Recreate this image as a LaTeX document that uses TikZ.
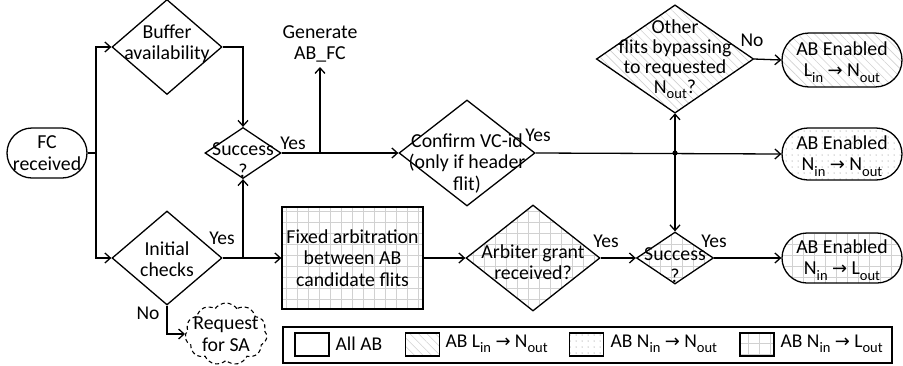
\documentclass[tikz,border=0pt]{standalone}
\usepackage{fontspec}
\setmainfont{Carlito}
\newfontfamily\arrowfont{DejaVu Sans}
\usetikzlibrary{shapes.geometric,shapes.misc,shapes.symbols,patterns,patterns.meta,arrows.meta,calc}

% square grid fill with 11pt cells
\pgfdeclarepatternformonly{gridcells}{\pgfpoint{-1pt}{-1pt}}{\pgfpoint{12pt}{12pt}}{\pgfpoint{11pt}{11pt}}{
  \pgfsetlinewidth{0.6pt}
  \pgfpathmoveto{\pgfpoint{-1pt}{0pt}}\pgfpathlineto{\pgfpoint{12pt}{0pt}}
  \pgfpathmoveto{\pgfpoint{0pt}{-1pt}}\pgfpathlineto{\pgfpoint{0pt}{12pt}}
  \pgfusepath{stroke}}

% lowered subscript and right arrow used in the port names
\newcommand{\sbs}[1]{\raisebox{-0.28em}{\fontsize{14.5}{14.5}\selectfont #1}}
\newcommand{\rarr}{{\arrowfont\fontsize{18}{18}\selectfont →}}

\begin{document}
\begin{tikzpicture}[x=1pt, y=-1pt, line width=1.3pt,
  font=\fontsize{19.8}{21.5}\selectfont,
  arr/.style={-{Straight Barb[length=5.5pt,width=10pt]}},
  dia/.style={diamond, draw, inner sep=0pt},
  txt/.style={align=center, inner sep=0pt},
  lbl/.style={inner sep=0pt, font=\fontsize{19.5}{21}\selectfont},
  term/.style={rounded rectangle, draw, inner sep=0pt},
  hatchL/.style={pattern={Lines[angle=-45,distance=6pt,line width=0.6pt]}, pattern color=black!18},
  dotsN/.style={pattern={Dots[distance=6pt,radius=0.5pt]}, pattern color=black!55},
  gridL/.style={pattern=gridcells, pattern color=black!18},
]
\useasboundingbox (0,0) rectangle (903,365);

% ---- shapes ----
\node[term, minimum width=80, minimum height=50] (fc) at (47,153) {};
\node[txt] (fc-t) at (fc) {FC\\received};

\node[dia, minimum width=110, minimum height=95] (buf) at (167,47) {};
\node[txt] (buf-t) at (167,44) {Buffer\\availability};

\node[dia, minimum width=110, minimum height=94] (init) at (167,258) {};
\node[txt] (init-t) at (167,259) {Initial\\checks};

\node[dia, minimum width=76, minimum height=51] (succ1) at (243,153) {};
\node[txt] (succ1-t) at (243,160) {Success\\?};

\node[txt] (gen) at (320,44) {Generate\\AB\_FC};

\node[dia, minimum width=136, minimum height=106] (conf) at (467,153) {};
\node[txt] (conf-t) at (467,163) {Confirm VC-id\\(only if header\\flit)};

\node[dia, hatchL, minimum width=157, minimum height=108] (other) at (675,59) {};
\node[txt, font=\fontsize{19.8}{20}\selectfont] (other-t) at (675,59) {Other\\flits bypassing\\to requested\\N\sbs{out}?};

\node[term, hatchL, minimum width=120, minimum height=54] (enL) at (842,60) {};
\node[txt] (enL-t) at (842,62) {AB Enabled\\L\sbs{in} \rarr{} N\sbs{out}};

\node[term, dotsN, minimum width=120, minimum height=52] (enN) at (842,154) {};
\node[txt] (enN-t) at (842,156) {AB Enabled\\N\sbs{in} \rarr{} N\sbs{out}};

\node[term, gridL, minimum width=120, minimum height=50] (enO) at (842,258) {};
\node[txt] (enO-t) at (842,260) {AB Enabled\\N\sbs{in} \rarr{} L\sbs{out}};

\node[draw, gridL, minimum width=141, minimum height=102, inner sep=0pt] (fixed) at (352.5,258) {};
\node[txt] (fixed-t) at (fixed) {Fixed arbitration\\between AB\\candidate flits};

\node[dia, gridL, minimum width=134, minimum height=106] (arb) at (533,258) {};
\node[txt] (arb-t) at (533,262) {Arbiter grant\\received?};

\node[dia, gridL, minimum width=77, minimum height=52] (succ2) at (675,258) {};
\node[txt] (succ2-t) at (675,265) {Success\\?};

\node[cloud, draw, line width=1.1pt, dash pattern=on 4pt off 3pt, cloud puffs=11, cloud puff arc=110,
      minimum width=82, minimum height=62, inner sep=0pt] (req) at (226,334) {};
\node[txt] (req-t) at (226,334) {Request\\for SA};

% ---- connectors ----
\coordinate (split) at (96,153);
\draw (fc.east) -- (split);
\draw[arr] (split) |- (buf.west);
\draw[arr] (split) |- (init.west);

\draw[arr] (buf.east) -| (succ1.north);

\coordinate (j1) at (succ1.south |- init.east);
\draw[arr] (init.east) -- (fixed.west);
\draw[arr] (j1) -- (succ1.south);
\draw[arr] (init.south) |- (req.west);

\coordinate (j2) at (gen.south |- succ1.east);
\coordinate (genin) at (320,67);
\draw[arr] (succ1.east) -- (conf.west);
\draw[arr] (j2) -- (genin);

\coordinate (j3) at (other.south |- conf.east);
\draw[arr] (conf.east) -- (enN.west);
\draw[arr] (j3) -- (other.south);
\draw[arr] (j3) -- (succ2.north);
\fill (j3) circle (2.6pt);

\draw[arr] (other.east) -- (enL.west);
\draw[arr] (fixed.east) -- (arb.west);
\draw[arr] (arb.east) -- (succ2.west);
\draw[arr] (succ2.east) -- (enO.west);

% ---- branch labels ----
\node[lbl] (l-y1) at (293,143) {Yes};
\node[lbl] (l-y2) at (222,238) {Yes};
\node[lbl] (l-n1) at (148,313) {No};
\node[lbl] (l-y3) at (538,135) {Yes};
\node[lbl] (l-n2) at (752,40) {No};
\node[lbl] (l-y4) at (606,241) {Yes};
\node[lbl] (l-y5) at (714,241) {Yes};

% ---- legend ----
\node[draw, line width=1.4pt, minimum width=609, minimum height=36, inner sep=0pt] (leg) at (587.5,345) {};
\node[draw, minimum width=34, minimum height=23, inner sep=0pt] (s1) at (312,344.5) {};
\node[lbl, anchor=west] (s1-t) at (335,344) {All AB};
\node[draw, hatchL, minimum width=34, minimum height=23, inner sep=0pt] (s2) at (422.5,344.5) {};
\node[lbl, anchor=west] (s2-t) at (445,344) {AB L\sbs{in} \rarr{} N\sbs{out}};
\node[draw, dotsN, minimum width=34, minimum height=23, inner sep=0pt] (s3) at (586.5,344.5) {};
\node[lbl, anchor=west] (s3-t) at (610,344) {AB N\sbs{in} \rarr{} N\sbs{out}};
\node[draw, gridL, minimum width=34, minimum height=23, inner sep=0pt] (s4) at (757,344.5) {};
\node[lbl, anchor=west] (s4-t) at (780,344) {AB N\sbs{in} \rarr{} L\sbs{out}};
\end{tikzpicture}
\end{document}
